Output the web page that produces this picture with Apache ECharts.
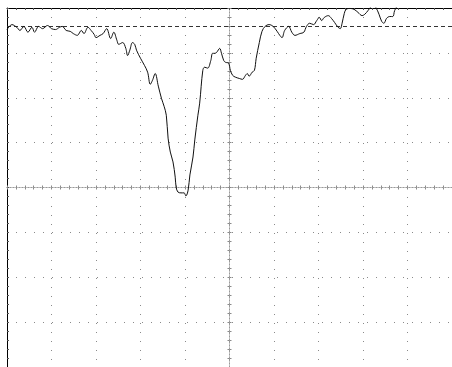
<!DOCTYPE html>
<html><head><meta charset="utf-8">
<script src="https://cdn.jsdelivr.net/npm/echarts@6/dist/echarts.min.js"></script>
<style>html,body{margin:0;padding:0;background:#fff;}#c{width:452px;height:367px;}</style>
</head><body><div id="c"></div>
<script>
// horizontal position in divisions (centre = 0)
const timeDiv = [
-5.00,-4.89,-4.78,-4.71,-4.62,-4.53,-4.44,-4.38,-4.29,-4.20,-4.09,-4.00,-3.91,-3.82,-3.76,-3.67,-3.58,-3.51,-3.42,-3.33,
-3.27,-3.18,-3.11,-3.04,-3.00,-2.91,-2.84,-2.76,-2.67,-2.60,-2.53,-2.49,-2.40,-2.33,-2.29,-2.24,-2.18,-2.13,-2.09,-2.00,
-1.91,-1.84,-1.78,-1.73,-1.67,-1.60,-1.53,-1.47,-1.42,-1.38,-1.33,-1.27,-1.22,-1.20,-1.16,-1.09,-1.02,-0.98,-0.93,-0.89,
-0.82,-0.78,-0.71,-0.67,-0.60,-0.56,-0.49,-0.42,-0.38,-0.33,-0.29,-0.22,-0.18,-0.13,-0.09,-0.02,0.02,0.07,0.13,0.22,
0.29,0.36,0.40,0.44,0.51,0.56,0.60,0.67,0.73,0.80,0.89,0.98,1.07,1.13,1.18,1.24,1.33,1.40,1.47,1.58,
1.67,1.73,1.80,1.89,1.96,2.02,2.07,2.13,2.22,2.29,2.36,2.44,2.49,2.53,2.58,2.62,2.71,2.80,2.89,2.98,
3.04,3.11,3.18,3.22,3.29,3.36,3.42,3.47,3.53,3.60,3.67,3.71,3.76,3.84,4.07,4.29,4.51,4.73,5.00
];
// vertical level in divisions (centre = 0)
const levelDiv = [
3.52,3.63,3.57,3.50,3.59,3.46,3.57,3.46,3.59,3.54,3.61,3.54,3.52,3.57,3.59,3.50,3.48,3.43,3.39,3.50,
3.43,3.57,3.50,3.41,3.34,3.39,3.43,3.54,3.32,3.46,3.28,3.19,3.23,3.10,2.94,3.06,3.23,3.19,3.06,2.88,
2.72,2.57,2.30,2.39,2.54,2.26,1.99,1.81,1.61,1.10,0.79,0.57,0.23,0.01,-0.10,-0.12,-0.12,-0.19,-0.06,0.28,
0.68,1.06,1.61,1.88,2.61,2.68,2.66,2.83,2.99,2.99,3.01,3.10,2.99,2.83,2.79,2.77,2.61,2.50,2.46,2.43,
2.41,2.50,2.54,2.48,2.57,2.61,2.88,3.23,3.48,3.59,3.63,3.59,3.48,3.39,3.34,3.50,3.59,3.46,3.39,3.43,
3.46,3.59,3.66,3.63,3.72,3.79,3.72,3.79,3.83,3.77,3.68,3.57,3.54,3.66,3.88,3.97,3.99,3.97,3.90,3.83,
3.86,3.94,4.03,4.08,4.01,3.86,3.70,3.66,3.77,3.81,3.81,3.94,4.03,4.12,4.17,4.12,4.14,4.10,4.12
];
const refLevel = 3.59;
const xRange = [-5, 5];
const yRange = [-4, 4];

const gridGray = '#8a8a8a';
const chart = echarts.init(document.getElementById('c'), null, {renderer: 'canvas'});

function xAx(extra) {
  return Object.assign({type: 'value', min: xRange[0], max: xRange[1], interval: 1,
    axisLabel: {show: false}, splitLine: {show: false}, axisTick: {show: false}}, extra);
}
function yAx(extra) {
  return Object.assign({type: 'value', min: yRange[0], max: yRange[1], interval: 1,
    axisLabel: {show: false}, splitLine: {show: false}, axisTick: {show: false}}, extra);
}
const centreLine = {show: true, onZero: true, onZeroAxisIndex: 0, lineStyle: {color: '#9a9a9a', width: 1, type: [1, 2]}};
const centreTick = {show: true, length: 2, lineStyle: {color: gridGray, width: 1}};
const centreMinor = {show: true, splitNumber: 5, length: 2, lineStyle: {color: gridGray, width: 1}};
const borderTick = {show: true, inside: true, length: 2, lineStyle: {color: '#555', width: 1}};
const borderMinor = {show: true, splitNumber: 5, length: 2, lineStyle: {color: '#555', width: 1}};

chart.setOption({
  animation: false,
  backgroundColor: '#fff',
  grid: {left: 7, top: 8, width: 450, height: 360, containLabel: false},
  xAxis: [
    xAx({position: 'bottom', axisLine: {show: false, onZero: false},
         splitLine: {show: true, lineStyle: {color: gridGray, width: 1, type: [1, 8]}}}),
    xAx({position: 'bottom', axisLine: centreLine, axisTick: centreTick, minorTick: centreMinor}),
    xAx({position: 'top', axisLine: centreLine, axisTick: centreTick, minorTick: centreMinor}),
    xAx({position: 'top', axisLine: {show: true, onZero: false, lineStyle: {color: '#000', width: 1}},
         axisTick: borderTick, minorTick: borderMinor})
  ],
  yAxis: [
    yAx({position: 'left', axisLine: {show: false, onZero: false},
         splitLine: {show: true, lineStyle: {color: gridGray, width: 1, type: [1, 8]}}}),
    yAx({position: 'left', axisLine: centreLine, axisTick: centreTick, minorTick: centreMinor}),
    yAx({position: 'right', axisLine: centreLine, axisTick: centreTick, minorTick: centreMinor}),
    yAx({position: 'left', axisLine: {show: true, onZero: false, lineStyle: {color: '#000', width: 1}},
         axisTick: borderTick, minorTick: borderMinor})
  ],
  series: [{
    type: 'line',
    xAxisIndex: 0,
    yAxisIndex: 0,
    data: timeDiv.map((t, i) => [t, levelDiv[i]]),
    showSymbol: false,
    symbol: 'none',
    smooth: 0.35,
    clip: true,
    lineStyle: {color: '#111', width: 1},
    silent: true,
    z: 5,
    markLine: {
      silent: true,
      symbol: ['none', 'none'],
      label: {show: false},
      lineStyle: {color: '#333', width: 1, type: [4, 3]},
      data: [{yAxis: refLevel}]
    }
  }]
});
</script></body></html>
